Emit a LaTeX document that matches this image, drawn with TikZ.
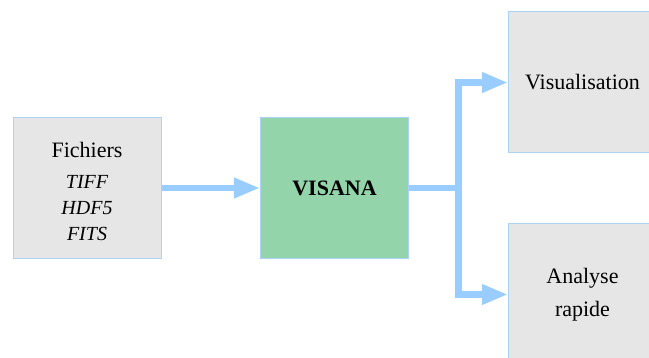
\documentclass[tikz,border=0pt]{standalone}
\usepackage{fontspec}
\setmainfont{Liberation Serif}
\newfontfamily\timesfont{Liberation Serif}
\usetikzlibrary{arrows.meta}

\definecolor{boxgray}{HTML}{E6E6E6}
\definecolor{boxgreen}{HTML}{93D4AB}
\definecolor{boxedge}{HTML}{ABD2F7}
\definecolor{flowblue}{HTML}{99CCFF}

\begin{document}
\begin{tikzpicture}[x=1pt, y=-1pt,
  box/.style={draw=boxedge, line width=1pt, fill=boxgray,
    minimum width=148pt, minimum height=141pt, inner sep=0pt,
    align=center, font=\timesfont\fontsize{22}{26}\selectfont},
  flow/.style={draw=flowblue, line width=6.5pt, line join=miter},
  tip/.style={-{Triangle[length=26pt, width=19pt]}}
]

% --- Page frame ---
\useasboundingbox (0,0) rectangle (649,358);
\clip (0,0) rectangle (649,358);

% --- Split point of the output line ---
\def\xSplit{458.5}

% --- Boxes ---
\node[box] (files) at (87,188) {};
\node[align=center, inner sep=0pt, font=\timesfont\fontsize{22}{26}\selectfont]
  (filesText) at ([yshift=-3.5pt]files.center)
  {Fichiers\\[5.7pt]\fontsize{20}{26}\selectfont\itshape TIFF\\
   \fontsize{20}{26}\selectfont\itshape HDF5\\
   \fontsize{20}{26}\selectfont\itshape FITS};
\node[box, fill=boxgreen, font=\timesfont\fontsize{22}{26}\selectfont\bfseries]
  (visana) at (334.5,188) {VISANA};
\node[box] (visu) at (582.5,82.5) {Visualisation};
\node[box, font=\timesfont\fontsize{22}{33}\selectfont]
  (quick) at (582.5,294.5) {Analyse\\rapide};

\coordinate (split) at (\xSplit,188);

% --- Connectors ---
\draw[flow, tip] (files) -- (visana);
\draw[flow] (visana) -- (split);
\draw[flow, tip] (split) |- (visu.west);
\draw[flow, tip] (split) |- (quick.west);

\end{tikzpicture}
\end{document}
